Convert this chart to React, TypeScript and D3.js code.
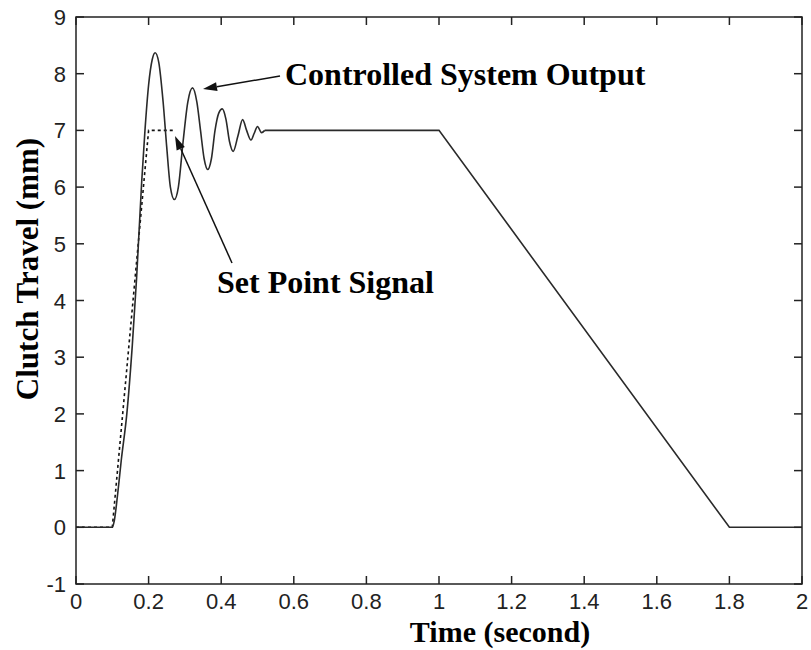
import * as d3 from 'd3';

// Controlled system output (time s, travel mm)
const outputT = [0, 0.1, 0.105, 0.115, 0.125, 0.14, 0.155, 0.167, 0.181, 0.19, 0.2, 0.21, 0.218, 0.228, 0.24, 0.25, 0.26, 0.271, 0.282, 0.295, 0.308, 0.321, 0.333, 0.343, 0.353, 0.363, 0.373, 0.383, 0.393, 0.403, 0.413, 0.423, 0.433, 0.446, 0.459, 0.47, 0.482, 0.491, 0.5, 0.511, 0.52];
const outputV = [0, 0, 0.1, 0.6, 1.2, 2.0, 3.2, 4.4, 6.1, 7.0, 7.8, 8.25, 8.37, 8.2, 7.5, 6.7, 6.0, 5.78, 6.0, 6.8, 7.5, 7.75, 7.5, 7.0, 6.5, 6.31, 6.5, 7.0, 7.3, 7.38, 7.2, 6.8, 6.63, 6.9, 7.19, 7.0, 6.83, 6.95, 7.07, 6.96, 7.0];
// steady part and ramp down
const tailT = [0.52, 1.0, 1.8, 2.0];
const tailV = [7, 7, 0, 0];

// set point (visible part)
const setT = [0, 0.1, 0.2, 0.27];
const setV = [0, 0, 7, 7];

const xTicks = [0, 0.2, 0.4, 0.6, 0.8, 1, 1.2, 1.4, 1.6, 1.8, 2];
const yTicks = [-1, 0, 1, 2, 3, 4, 5, 6, 7, 8, 9];

const W = 811;
const H = 650;
const left = 76, right = 802, top = 17, bottom = 584;

export default function App() {
  const x = d3.scaleLinear().domain([0, 2]).range([left, right]);
  const y = d3.scaleLinear().domain([-1, 9]).range([bottom, top]);

  const osc = outputT.map((t, i) => [t, outputV[i]] as [number, number]);
  const tail = tailT.map((t, i) => [t, tailV[i]] as [number, number]);
  const sp = setT.map((t, i) => [t, setV[i]] as [number, number]);

  const smooth = d3.line<[number, number]>().x(d => x(d[0])).y(d => y(d[1])).curve(d3.curveMonotoneX);
  const straight = d3.line<[number, number]>().x(d => x(d[0])).y(d => y(d[1]));

  const tickLen = 8;
  const axisColor = '#222';
  const lineColor = '#2a2a2a';
  const serif = '"Liberation Serif", "Times New Roman", serif';
  const sans = '"Liberation Sans", Arial, sans-serif';

  const arrow = (x1: number, y1: number, x2: number, y2: number) => {
    const ang = Math.atan2(y2 - y1, x2 - x1);
    const len = 14, half = 4.5;
    const bx = x2 - len * Math.cos(ang), by = y2 - len * Math.sin(ang);
    const px = -Math.sin(ang) * half, py = Math.cos(ang) * half;
    return (
      <g>
        <line x1={x1} y1={y1} x2={bx} y2={by} stroke="#111" strokeWidth={1.5} />
        <polygon points={`${x2},${y2} ${bx + px},${by + py} ${bx - px},${by - py}`} fill="#111" />
      </g>
    );
  };

  return (
    <svg width={W} height={H} style={{ position: 'absolute', left: 0, top: 0, background: '#fff' }}>
      <rect x={0} y={0} width={W} height={H} fill="#fff" />

      {/* set point, dotted */}
      <path d={straight(sp) || ''} fill="none" stroke="#111" strokeWidth={1.6} strokeDasharray="3,3" />

      {/* output */}
      <path d={smooth(osc) || ''} fill="none" stroke={lineColor} strokeWidth={1.6} />
      <path d={straight(tail) || ''} fill="none" stroke={lineColor} strokeWidth={1.6} />

      {/* box */}
      <rect x={left} y={top} width={right - left} height={bottom - top} fill="none" stroke={axisColor} strokeWidth={1.5} />

      {xTicks.map(t => (
        <g key={'x' + t}>
          <line x1={x(t)} x2={x(t)} y1={bottom} y2={bottom - tickLen} stroke={axisColor} strokeWidth={1.5} />
          <line x1={x(t)} x2={x(t)} y1={top} y2={top + tickLen} stroke={axisColor} strokeWidth={1.5} />
          <text x={x(t)} y={bottom + 25} textAnchor="middle" fontFamily={sans} fontSize={22} fill="#222">{String(t)}</text>
        </g>
      ))}
      {yTicks.map(v => (
        <g key={'y' + v}>
          <line x1={left} x2={left + tickLen} y1={y(v)} y2={y(v)} stroke={axisColor} strokeWidth={1.5} />
          <line x1={right} x2={right - tickLen} y1={y(v)} y2={y(v)} stroke={axisColor} strokeWidth={1.5} />
          <text x={left - 10} y={y(v) + 8} textAnchor="end" fontFamily={sans} fontSize={22} fill="#222">{String(v)}</text>
        </g>
      ))}

      <text x={500} y={642} textAnchor="middle" fontFamily={serif} fontWeight="bold" fontSize={30} fill="#000">Time (second)</text>
      <text transform="translate(38,269) rotate(-90)" textAnchor="middle" fontFamily={serif} fontWeight="bold" fontSize={31} fill="#000">Clutch Travel (mm)</text>

      {arrow(280, 76, 203, 89)}
      <text x={285} y={85} fontFamily={serif} fontWeight="bold" fontSize={32} fill="#000">Controlled System Output</text>

      {arrow(232, 263, 175, 136)}
      <text x={217} y={293} fontFamily={serif} fontWeight="bold" fontSize={32} fill="#000">Set Point Signal</text>
    </svg>
  );
}
